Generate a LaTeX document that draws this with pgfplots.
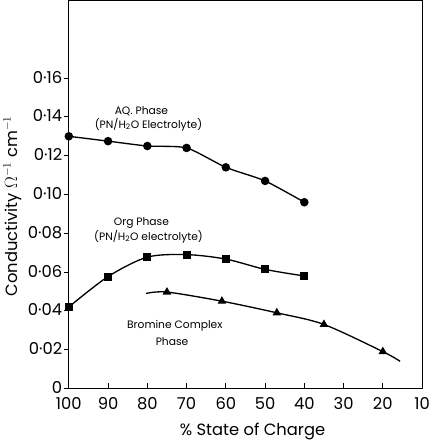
\documentclass[border=0pt]{standalone}
\usepackage{pgfplots}
\pgfplotsset{compat=1.18}
\usepackage{fontspec}
\setmainfont{Poppins}
\begin{document}
\begin{tikzpicture}
\begin{axis}[
  scale only axis, width=346pt, height=380pt,
  x dir=reverse, xmin=10, xmax=100, ymin=0, ymax=0.2,
  axis line style={line width=1pt},
  xtick={10,20,...,100}, ytick={0,0.02,0.04,0.06,0.08,0.10,0.12,0.14,0.16},
  yticklabels={0,0·02,0·04,0·06,0·08,0·10,0·12,0·14,0·16},
  xticklabels={10,20,30,40,50,60,70,80,90,100},
  xtick pos=bottom, ytick pos=left,
  tick align=inside, major tick length=5pt,
  ytick style={xshift=-5pt},
  tick style={black, line width=0.8pt},
  tick label style={font=\fontsize{16}{18}\selectfont},
  yticklabel style={xshift=-3pt, yshift=1pt},
  xticklabel style={yshift=-5pt},
  xlabel={\% State of Charge},
  ylabel={Conductivity $\Omega^{-1}$ cm$^{-1}$},
  label style={font=\fontsize{16}{18}\selectfont},
  xlabel style={at={(axis description cs:0.52,-0.11)}, anchor=center},
  ylabel style={at={(axis description cs:-0.16,0.47)}, anchor=center},
  every axis plot/.append style={black, line width=1.3pt},
]
% AQ phase
\addplot[smooth, tension=0.4, mark=*, mark size=3.5pt] coordinates {
  (100,0.130) (90,0.1275) (80,0.125) (70,0.124) (60,0.114) (50,0.107) (40,0.096)
};
% Org phase
\addplot[smooth, tension=0.5, mark=square*, mark size=3.3pt] coordinates {
  (100,0.042) (90,0.0577) (80,0.0677) (70,0.069) (60,0.0667) (50,0.0614) (40,0.058)
};
% Bromine complex phase
\addplot[smooth, tension=0.5, no marks] coordinates {
  (80.3,0.049) (75,0.0497) (61,0.045) (47,0.039) (35,0.033) (20,0.019) (15.6,0.014)
};
\addplot[only marks, mark=triangle*, mark size=3.6pt] coordinates {
  (75,0.0497) (61,0.045) (47,0.039) (35,0.033) (20,0.019)
};
\node[font=\fontsize{10.5}{12}\selectfont] at (axis cs:81.5,0.143) {AQ. Phase};
\node[font=\fontsize{10.5}{12}\selectfont] at (axis cs:79.7,0.136) {(PN/H\textsubscript{2}O Electrolyte)};
\node[font=\fontsize{10.5}{12}\selectfont] at (axis cs:81.5,0.0852) {Org Phase};
\node[font=\fontsize{10.5}{12}\selectfont] at (axis cs:79.7,0.0783) {(PN/H\textsubscript{2}O electrolyte)};
\node[font=\fontsize{10.5}{12}\selectfont] at (axis cs:73,0.0323) {Bromine Complex};
\node[font=\fontsize{10.5}{12}\selectfont] at (axis cs:73.7,0.0243) {Phase};
\end{axis}
\end{tikzpicture}
\end{document}
